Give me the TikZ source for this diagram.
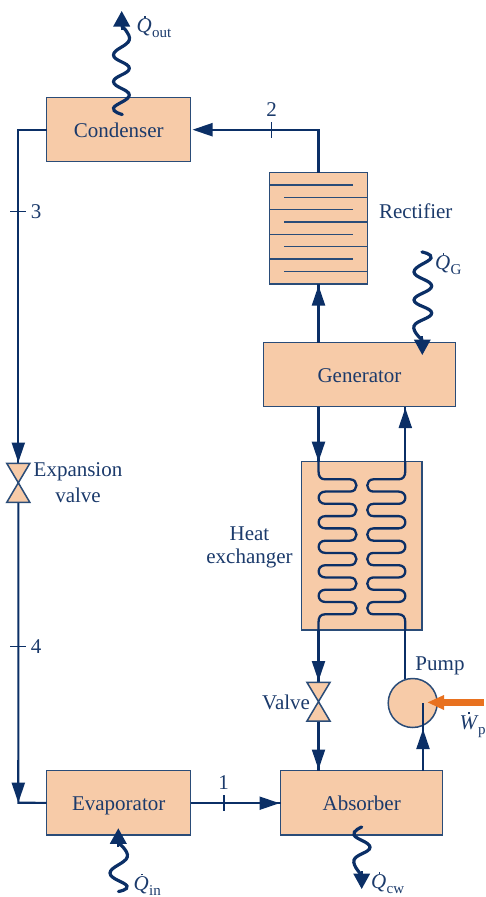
\documentclass[tikz,border=0pt]{standalone}
\usepackage{fontspec}
\setmainfont{Liberation Serif}
\usetikzlibrary{arrows.meta}
\definecolor{navy}{HTML}{0B2F66}
\definecolor{inkc}{HTML}{1B3A6B}
\definecolor{edgec}{HTML}{2A4C78}
\definecolor{peach}{HTML}{F7CBA8}
\definecolor{orng}{HTML}{E8711F}
\newcommand{\dq}[3]{\leavevmode\rlap{\hspace{#3}\raisebox{.70em}{\rule{1.9pt}{1.9pt}}}\textit{#1}\kern.5pt\raisebox{-.25em}{\fontsize{15}{15}\selectfont #2}}
\tikzset{
  x=1pt,y=-1pt,
  txt/.style={text=inkc,font=\fontsize{21}{24}\selectfont,inner sep=0pt,outer sep=0pt},
  unitbox/.style={draw=edgec,fill=peach,line width=1.5pt,inner sep=0pt,outer sep=0pt,text=inkc,font=\fontsize{21}{24}\selectfont,text height=15pt,text depth=0pt},
  pipe/.style={draw=navy,line width=2.1pt},
  tick/.style={draw=navy,line width=1.4pt},
  coil/.style={draw=navy,line width=2.3pt,line join=round},
  wavy/.style={draw=navy,line width=3.2pt,line cap=round},
  head/.style={draw=navy,line width=2.1pt,-{Triangle[length=20pt,width=13pt,fill=navy,color=navy]}},
  bighead/.style={draw=navy,line width=2.1pt,-{Triangle[length=15.5pt,width=16.5pt,fill=navy,color=navy]}},
  valveshape/.style={draw=edgec,fill=peach,line width=1.5pt,line join=miter},
  plate/.style={draw=edgec,line width=1.5pt},
}
\begin{document}
\begin{tikzpicture}
\useasboundingbox (0,0) rectangle (486,897);
% units
\node[unitbox,minimum width=144pt,minimum height=64pt] (cond) at (118.7,129.7) {Condenser};
\node[unitbox,minimum width=98.4pt,minimum height=111.3pt] (rect) at (318.5,228.3) {};
\node[unitbox,minimum width=192.4pt,minimum height=64pt] (gen) at (359.5,374.7) {Generator};
\node[unitbox,minimum width=120.3pt,minimum height=168.3pt] (hx) at (361.85,545.85) {};
\node[unitbox,minimum width=144pt,minimum height=64.3pt] (eva) at (118.7,802.85) {Evaporator};
\node[unitbox,minimum width=162pt,minimum height=64.3pt] (abso) at (361.7,802.85) {Absorber};
\node[circle,draw=edgec,fill=peach,line width=1.5pt,minimum size=49pt,inner sep=0pt,outer sep=0pt] (pump) at (412.7,703) {};
% rectifier plates
\foreach \y in {185,209.7,234.3,259} \draw[plate] (269.3,\y) -- (353.3,\y);
\foreach \y in {197.5,222,246.7,271.5} \draw[plate] (284.3,\y) -- (367.7,\y);
% coordinates
\coordinate (leftx) at (18.3,129.7);
\coordinate (ev) at (18.3,482.8);
\coordinate (vv) at (318.5,701.6);
\coordinate (lowleft) at (18.3,802.7);
\coordinate (pipeL) at (318.5,0);
\coordinate (pipeR) at (405.3,0);
\coordinate (pipeP) at (423,0);
% left loop
\draw[pipe] (cond.west) -- (leftx) -- (ev);
\draw[pipe] (ev) -- (lowleft) -- (eva.west);
\draw[head] (18.3,430) -- (18.3,462.5);
\draw[head] (18.3,760) -- (lowleft);
% condenser return
\draw[pipe] (rect.north) -- (318.5,129.7) -- (212,129.7);
\draw[head] (230,129.7) -- (192.5,129.7);
% rectifier - generator
\draw[pipe] (gen.north -| rect) -- (rect.south);
\draw[head] (318.5,320) -- (318.5,285.5);
% generator - heat exchanger
\draw[pipe] (gen.south -| pipeL) -- (hx.north -| pipeL);
\draw[head] (318.5,425) -- (318.5,461.7);
\draw[pipe] (hx.north -| pipeR) -- (gen.south -| pipeR);
\draw[head] (405.3,445) -- (405.3,408);
% coils
\draw[coil] (hx.north -| pipeL) -- (318.5,471)
  .. controls (318.5,476.5) and (320.5,479.3) .. (325,479.3)
  \foreach \i [evaluate=\i as \a using 479.3+12.27*\i,
               evaluate=\i as \b using 479.3+12.27*(\i+1),
               evaluate=\i as \c using 479.3+12.27*(\i+2)] in {0,2,4,6,8} {
    -- (350,\a) .. controls (358.6,\a) and (358.6,\b) .. (350,\b)
    -- (325.5,\b) .. controls (316.4,\b) and (316.4,\c) .. (325.5,\c)
  }
  -- (350,602) .. controls (358.6,602) and (358.6,614.3) .. (350,614.3)
  -- (325,614.3) .. controls (320.5,614.3) and (318.5,617) .. (318.5,622.5) -- (hx.south -| pipeL);
\draw[coil] (hx.north -| pipeR) -- (405.3,471)
  .. controls (405.3,476.5) and (403,479.3) .. (398.5,479.3)
  \foreach \i [evaluate=\i as \a using 479.3+12.27*\i,
               evaluate=\i as \b using 479.3+12.27*(\i+1),
               evaluate=\i as \c using 479.3+12.27*(\i+2)] in {0,2,4,6,8} {
    -- (373.5,\a) .. controls (365.2,\a) and (365.2,\b) .. (373.5,\b)
    -- (398.5,\b) .. controls (407.6,\b) and (407.6,\c) .. (398.5,\c)
  }
  -- (373.5,602) .. controls (365.2,602) and (365.2,614.3) .. (373.5,614.3)
  -- (398.5,614.3) .. controls (403,614.3) and (405.3,617) .. (405.3,622.5) -- (hx.south -| pipeR);
% valve branch
\draw[pipe] (hx.south -| pipeL) -- (318.5,682);
\draw[head] (318.5,650) -- (318.5,681);
\draw[pipe] (318.5,721) -- (abso.north -| pipeL);
\draw[head] (318.5,730) -- (318.5,769.5);
% pump
\draw[pipe] (hx.south -| pipeR) -- (405.3,678.5);
\draw[pipe] (abso.north -| pipeP) -- (423,702.7);
\draw[head] (423,765) -- (423,729);
% evaporator to absorber
\draw[pipe] (eva.east) -- (abso.west);
\draw[head] (240,803.2) -- (279.5,803.2);
% valves
\draw[valveshape] (ev) -- (6.8,463.4) -- (29.8,463.4) -- cycle;
\draw[valveshape] (ev) -- (6.8,502.3) -- (29.8,502.3) -- cycle;
\draw[valveshape] (vv) -- (307,682.4) -- (330,682.4) -- cycle;
\draw[valveshape] (vv) -- (307,721) -- (330,721) -- cycle;
% ticks
\draw[tick] (10,211.3) -- (26,211.3);
\draw[tick] (10,646.3) -- (26,646.3);
\draw[tick] (271.5,122) -- (271.5,137.5);
\draw[tick] (224,795) -- (224,811);
% work arrow
\draw[draw=orng,line width=6.5pt] (484,702.4) -- (442,702.4);
\fill[orng] (444,695) -- (444,710) -- (427.7,702.4) -- cycle;
% heat waves
\draw[wavy] plot[smooth,tension=.75] coordinates {(122.3,114.5) (113.5,108) (129.3,95) (113.5,81.7) (129.3,68.3) (113.5,55) (129.3,40) (121.7,26)};
\draw[bighead] (121.7,30) -- (121.7,11);
\draw[wavy] plot[smooth,tension=.75] coordinates {(422,252) (431,258) (414,272) (431.7,286) (414,300) (431.7,313) (414,326) (422.3,340)};
\draw[bighead] (422.3,336) -- (422.3,355);
\draw[wavy] plot[smooth,tension=.75] coordinates {(118.5,891.5) (127,886) (110,873) (127.3,857) (118.3,843)};
\draw[bighead] (118.3,847) -- (118.3,828.3);
\draw[wavy] plot[smooth,tension=.75] coordinates {(361.7,827) (354,835) (370,847.3) (354,860) (361.7,875)};
\draw[bighead] (361.7,871) -- (361.7,889);
% labels
\node[txt,anchor=west] (lq1) at (136.5,27) {\dq{Q}{out}{.36em}};
\node[txt] (l2) at (271.5,110) {2};
\node[txt] (l3) at (36,211.5) {3};
\node[txt] (l4) at (36,646.5) {4};
\node[txt] (l1) at (223.5,783) {1};
\node[txt,anchor=west] (lrect) at (379,211) {Rectifier};
\node[txt,anchor=west] (lqg) at (435,264) {\dq{Q}{G}{.36em}};
\node[txt] (lev1) at (78,472) {Expansion};
\node[txt] (lev2) at (78,495) {valve};
\node[txt] (lhx1) at (249.5,534) {Heat};
\node[txt] (lhx2) at (249.5,558.5) {exchanger};
\node[txt,anchor=east] (lv) at (310,702) {Valve};
\node[txt] (lp) at (440,666) {Pump};
\node[txt,anchor=west] (lw) at (459.5,725) {\dq{W}{\kern-1pt p}{.42em}};
\node[txt,anchor=west] (lqc) at (371,883) {\dq{Q}{cw}{.36em}};
\node[txt,anchor=west] (lqi) at (133.5,884.5) {\dq{Q}{in}{.36em}};
\end{tikzpicture}
\end{document}
